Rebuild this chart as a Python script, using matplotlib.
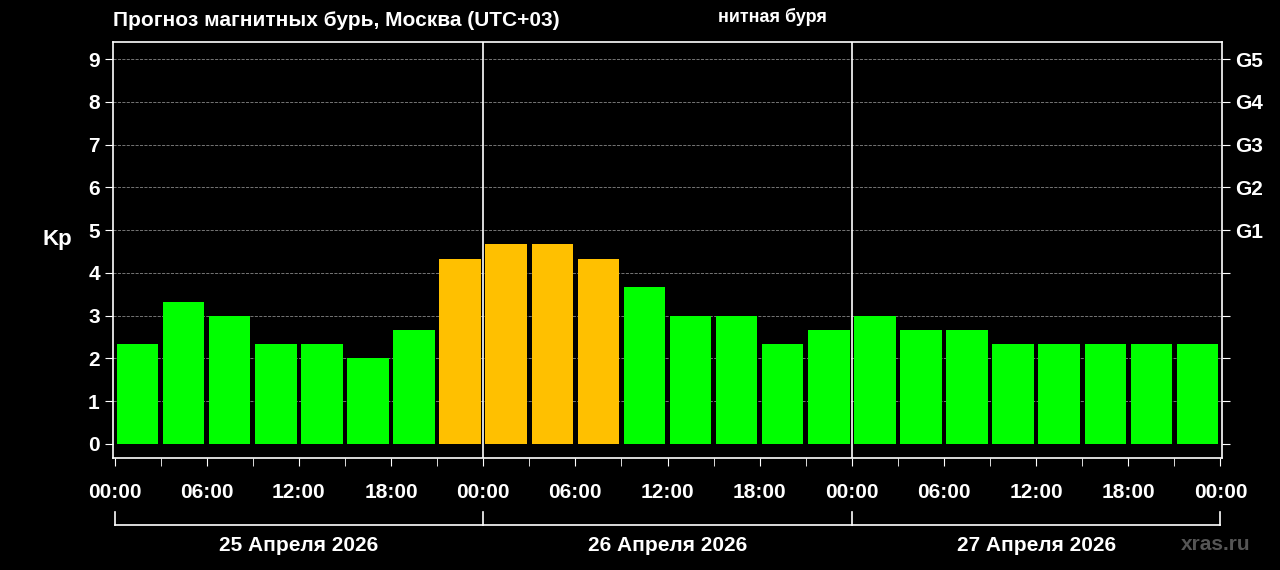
import matplotlib
matplotlib.use("Agg")
import matplotlib.pyplot as plt
import numpy as np

plt.rcParams["font.family"] = ["Liberation Sans", "DejaVu Sans"]
plt.rcParams["font.weight"] = "bold"

kp = [2.33, 3.33, 3.0, 2.33, 2.33, 2.0, 2.67, 4.33,
      4.67, 4.67, 4.33, 3.67, 3.0, 3.0, 2.33, 2.67,
      3.0, 2.67, 2.67, 2.33, 2.33, 2.33, 2.33, 2.33]
hour_labels = ["00:00", "06:00", "12:00", "18:00"] * 3 + ["00:00"]
days = ["25 Апреля 2026", "26 Апреля 2026", "27 Апреля 2026"]
g_levels = ["G1", "G2", "G3", "G4", "G5"]

green, orange = "#00ff00", "#ffc000"

fig = plt.figure(figsize=(12.8, 5.7), dpi=100, facecolor="black")
ax = fig.add_axes([113 / 1280, 1 - 458 / 570, 1109 / 1280, 416 / 570])
ax.set_facecolor("black")

x = np.arange(len(kp)) * 3 + 1.5
colors = [orange if v >= 4 else green for v in kp]
ax.bar(x, kp, width=2.7, color=colors, zorder=2)

ax.set_xlim(-0.1, 72.1)
ax.set_ylim(-0.33, 9.4)
for y in range(1, 10):
    ax.axhline(y, color="#888888", ls="--", lw=0.6, zorder=1)
for d in (24, 48):
    ax.axvline(d, color="white", lw=1.2, zorder=3)

for s in ax.spines.values():
    s.set_color("white")
    s.set_linewidth(1.2)

ax.set_yticks(range(10))
ax.tick_params(axis="y", colors="white", labelsize=15, length=6)
ax.set_ylabel("Kp", color="white", fontsize=16, rotation=0, labelpad=22)
ax.yaxis.label.set_weight("bold")

ax.set_xticks(range(0, 73, 6))
ax.set_xticklabels(hour_labels)
ax.set_xticks(range(0, 73, 3), minor=True)
ax.tick_params(axis="x", which="both", colors="white", labelsize=15, length=6, pad=12)

ax2 = ax.twinx()
ax2.set_ylim(ax.get_ylim())
ax2.set_yticks(range(10))
ax2.set_yticklabels(["", "", "", "", ""] + g_levels)
ax2.tick_params(axis="y", colors="white", labelsize=15, length=6)
for s in ax2.spines.values():
    s.set_visible(False)

# date bracket
tr = ax.get_xaxis_transform()
yb = -0.16
ax.plot([0, 72], [yb, yb], color="white", lw=1.2, transform=tr, clip_on=False)
for d in (0, 24, 48, 72):
    ax.plot([d, d], [yb, yb + 0.03], color="white", lw=1.2, transform=tr, clip_on=False)
for i, lab in enumerate(days):
    ax.text(i * 24 + 12, -0.21, lab, color="white", fontsize=15, ha="center",
            va="center", transform=tr, fontweight="bold")

fig.text(113 / 1280, 1 - 20 / 570, "Прогноз магнитных бурь, Москва (UTC+03)",
         color="white", fontsize=15, va="center", fontweight="bold")
fig.text(718 / 1280, 1 - 17 / 570, "нитная буря", color="white", fontsize=13,
         va="center", fontweight="bold")
fig.text(1250 / 1280, 1 - 545 / 570, "xras.ru", color="#555555", fontsize=15,
         ha="right", va="center", fontweight="bold")

fig.savefig("out.png", dpi=100, facecolor="black")
